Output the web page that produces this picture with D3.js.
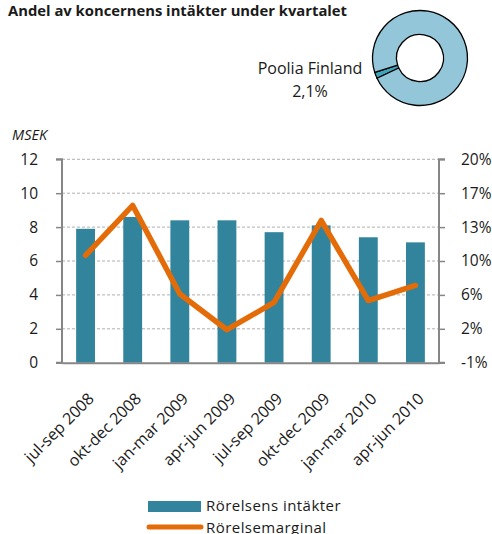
<!DOCTYPE html>
<html>
<head>
<meta charset="utf-8">
<script src="https://cdn.jsdelivr.net/npm/d3@7"></script>
<style>
  body { margin: 0; background: #fff; }
  svg text { font-family: "Open Sans", sans-serif; fill: #1a1a1a; }
</style>
</head>
<body>
<div id="chart"></div>
<script>
const categories = ["jul-sep 2008", "okt-dec 2008", "jan-mar 2009", "apr-jun 2009",
    "jul-sep 2009", "okt-dec 2009", "jan-mar 2010", "apr-jun 2010"];
const revenue = [7.9, 8.6, 8.4, 8.4, 7.7, 8.1, 7.4, 7.1];
const margin = [0.102, 0.155, 0.061, 0.023, 0.052, 0.139, 0.054, 0.070];
const leftTicks = [0, 2, 4, 6, 8, 10, 12];
const rightTicks = [-0.012, 0.024, 0.060, 0.096, 0.132, 0.168, 0.204];
const shareLabel = "Poolia Finland";
const shareValue = 0.021;

const W = 492, H = 534;
const plot = { left: 62, right: 439, top: 159.3, bottom: 362.7 };
const fontSize = 16;

const svg = d3.select("#chart").append("svg")
    .attr("width", W)
    .attr("height", H);

// title
svg.append("text")
    .attr("x", 8).attr("y", 16)
    .attr("font-size", 14.8)
    .attr("font-weight", "bold")
    .text("Andel av koncernens intäkter under kvartalet");

// donut
const arc = d3.arc().innerRadius(23.5).outerRadius(47.5);
const donut = svg.append("g").attr("transform", "translate(420,58)");
const slices = d3.pie().sort(null)
    .startAngle(Math.PI * 1.36)
    .endAngle(Math.PI * 1.36 + 2 * Math.PI)([shareValue, 1 - shareValue]);
donut.selectAll("path")
    .data(slices)
    .join("path")
    .attr("d", arc)
    .attr("fill", (d, i) => i === 0 ? "#3FA3B9" : "#93C6D8")
    .attr("stroke", "#000")
    .attr("stroke-width", 1.3);

svg.append("text")
    .attr("x", 310).attr("y", 74)
    .attr("text-anchor", "middle")
    .attr("font-size", fontSize)
    .text(shareLabel);
svg.append("text")
    .attr("x", 310).attr("y", 97)
    .attr("text-anchor", "middle")
    .attr("font-size", fontSize)
    .text(d3.format(".1%")(shareValue).replace(".", ","));

// MSEK
svg.append("text")
    .attr("x", 12).attr("y", 140)
    .attr("font-size", 14.5)
    .attr("font-style", "italic")
    .text("MSEK");

const x = d3.scaleBand()
    .domain(categories)
    .range([plot.left, plot.right])
    .paddingInner(0.6)
    .paddingOuter(0.3);

const xPoint = d3.scalePoint()
    .domain(categories)
    .range([plot.left, plot.right])
    .padding(0.5);

const y = d3.scaleLinear().domain([0, 12]).range([plot.bottom, plot.top]);
const y2 = d3.scaleLinear().domain([-0.012, 0.204]).range([plot.bottom, plot.top]);

// gridlines
svg.append("g")
    .selectAll("line")
    .data(leftTicks.slice(1))
    .join("line")
    .attr("x1", plot.left).attr("x2", plot.right)
    .attr("y1", d => y(d)).attr("y2", d => y(d))
    .attr("stroke", "#b0b0b0")
    .attr("stroke-width", 1)
    .attr("stroke-dasharray", "3,2");

// bars
svg.append("g")
    .selectAll("rect")
    .data(revenue)
    .join("rect")
    .attr("x", (d, i) => x(categories[i]))
    .attr("width", x.bandwidth())
    .attr("y", d => y(d))
    .attr("height", d => y(0) - y(d))
    .attr("fill", "#31849B");

// axes
const yAxis = d3.axisLeft(y).tickValues(leftTicks).tickSize(6).tickPadding(18);
const gy = svg.append("g")
    .attr("transform", `translate(${plot.left},0)`)
    .call(yAxis);

const yAxis2 = d3.axisRight(y2).tickValues(rightTicks).tickSize(6)
    .tickPadding(16)
    .tickFormat(d => Math.round(d * 100) + "%");
const gy2 = svg.append("g")
    .attr("transform", `translate(${plot.right},0)`)
    .call(yAxis2);

const xAxis = d3.axisBottom(x).tickSize(0).tickFormat("");
svg.append("g")
    .attr("transform", `translate(0,${plot.bottom})`)
    .call(xAxis);

svg.selectAll(".domain").attr("stroke", "#868686").attr("stroke-width", 2);
svg.selectAll(".tick line").attr("stroke", "#868686").attr("stroke-width", 1.5);
svg.selectAll(".tick text").attr("font-size", 15.5).attr("fill", "#1a1a1a")
    .attr("font-family", "'Open Sans', sans-serif");
gy.select(".domain").attr("d", `M-6,${plot.top}H0V${plot.bottom}H-6`);
gy2.select(".domain").attr("d", `M6,${plot.top}H0V${plot.bottom}H6`);

// category labels
svg.append("g")
    .selectAll("text")
    .data(categories)
    .join("text")
    .attr("transform", d => `translate(${xPoint(d) + 9.5},${plot.bottom + 37}) rotate(-45)`)
    .attr("text-anchor", "end")
    .attr("font-size", fontSize)
    .text(d => d);

// margin line
const line = d3.line()
    .x((d, i) => xPoint(categories[i]))
    .y(d => y2(d));
svg.append("path")
    .datum(margin)
    .attr("d", line)
    .attr("fill", "none")
    .attr("stroke", "#E36C09")
    .attr("stroke-width", 5.5)
    .attr("stroke-linejoin", "round")
    .attr("stroke-linecap", "round");

// legend
const legend = svg.append("g");
legend.append("rect")
    .attr("x", 148).attr("y", 501)
    .attr("width", 53).attr("height", 11)
    .attr("fill", "#31849B");
legend.append("text")
    .attr("x", 206).attr("y", 511)
    .attr("font-size", 15)
    .attr("letter-spacing", 0.45)
    .text("Rörelsens intäkter");
legend.append("line")
    .attr("x1", 149).attr("x2", 201)
    .attr("y1", 527).attr("y2", 527)
    .attr("stroke", "#E36C09")
    .attr("stroke-width", 5)
    .attr("stroke-linecap", "round");
legend.append("text")
    .attr("x", 206).attr("y", 532.5)
    .attr("font-size", 15)
    .attr("letter-spacing", 0.45)
    .text("Rörelsemarginal");
</script>
</body>
</html>
